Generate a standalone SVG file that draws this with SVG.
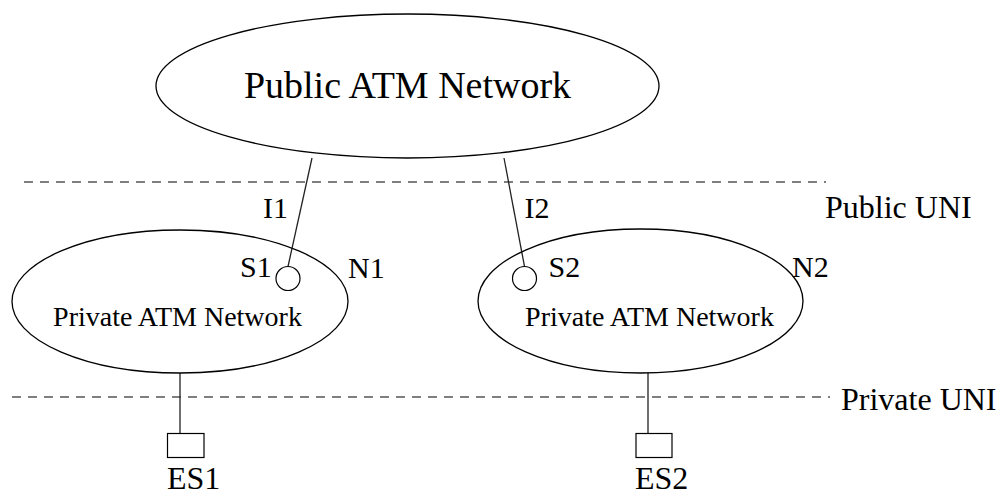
<svg xmlns="http://www.w3.org/2000/svg" width="1004" height="496" viewBox="0 0 1004 496">
<style>
  .shape { fill: none; stroke: #000; stroke-width: 1.3; }
  .box { fill: #fff; stroke: #000; stroke-width: 1.2; }
  .conn { stroke: #222; stroke-width: 1.3; fill: none; }
  .dash { stroke: #555; stroke-width: 1.3; stroke-dasharray: 9 7; fill: none; }
  text { font-family: "Liberation Serif", "Times New Roman", serif; fill: #000; }
  .big { font-size: 38px; }
  .mid { font-size: 28px; }
  .lbl { font-size: 30px; }
  .uni { font-size: 32px; }
</style>
<rect width="1004" height="496" fill="#fff"/>
<g id="boundaries">
  <line class="dash" x1="24" y1="182" x2="826" y2="182"/>
  <line class="dash" x1="12" y1="397" x2="830" y2="397"/>
  <text class="uni" x="825" y="218">Public UNI</text>
  <text class="uni" x="841" y="410">Private UNI</text>
</g>
<g id="connectors">
  <line class="conn" x1="312" y1="158" x2="288" y2="266.5"/>
  <line class="conn" x1="504" y1="158" x2="524.5" y2="266.5"/>
  <line class="conn" x1="180" y1="373" x2="180" y2="433"/>
  <line class="conn" x1="648" y1="373" x2="648" y2="433"/>
  <text class="lbl" x="263" y="218">I1</text>
  <text class="lbl" x="524.5" y="218">I2</text>
</g>
<g id="public-network">
  <ellipse class="shape" cx="407.5" cy="86" rx="251.5" ry="72"/>
  <text class="big" x="407.5" y="98" text-anchor="middle">Public ATM Network</text>
</g>
<g id="private-network-1">
  <ellipse class="shape" cx="180" cy="301.5" rx="168" ry="71.5"/>
  <text class="mid" x="177.5" y="326" text-anchor="middle">Private ATM Network</text>
  <text class="lbl" x="348" y="278">N1</text>
</g>
<g id="private-network-2">
  <ellipse class="shape" cx="640.5" cy="301" rx="162.5" ry="72"/>
  <text class="mid" x="649.5" y="326" text-anchor="middle">Private ATM Network</text>
  <text class="lbl" x="792" y="277">N2</text>
</g>
<g id="switch-s1">
  <circle class="box" cx="288" cy="278.5" r="12"/>
  <text class="lbl" x="240" y="277">S1</text>
</g>
<g id="switch-s2">
  <circle class="box" cx="524.5" cy="278.5" r="12"/>
  <text class="lbl" x="548.5" y="277">S2</text>
</g>
<g id="es1">
  <rect class="box" x="167.5" y="433.5" width="36.5" height="24"/>
  <text class="uni" x="167" y="489">ES1</text>
</g>
<g id="es2">
  <rect class="box" x="636" y="433.5" width="36" height="24"/>
  <text class="uni" x="635" y="489">ES2</text>
</g>
</svg>
